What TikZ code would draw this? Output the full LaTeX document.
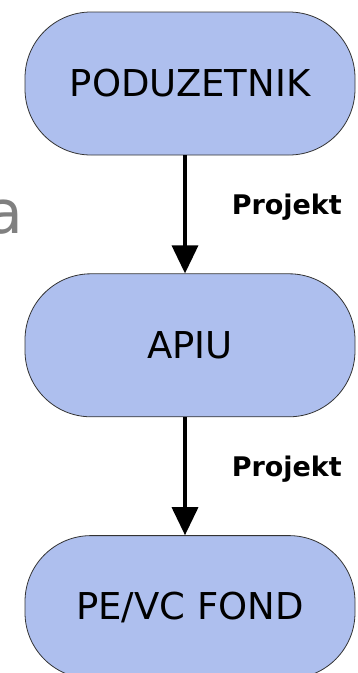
\documentclass[tikz,border=0pt]{standalone}
\usepackage{fontspec}
\setmainfont{DejaVu Sans}
\usetikzlibrary{positioning,arrows.meta}
\definecolor{boxblue}{RGB}{174,191,238}
\definecolor{sidegrey}{RGB}{128,128,128}
\tikzset{
  stage/.style={draw=black!80, fill=boxblue, line width=0.8pt,
    rounded corners=66pt, minimum width=330pt, minimum height=143pt,
    font=\fontsize{37}{44}\selectfont},
  flow/.style={line width=3.5pt, -{Triangle[width=26pt,length=28pt]}},
  flowlabel/.style={anchor=base west, inner sep=0pt, xshift=45pt,
    font=\bfseries\fontsize{27}{32}\selectfont}
}
\begin{document}
\begin{tikzpicture}
   \useasboundingbox (0pt,0pt) rectangle (357pt,-673pt);

   \node[stage] (poduzetnik) at (190pt,-83.5pt) {PODUZETNIK};
   \node[stage, below=118pt of poduzetnik] (apiu) {APIU};
   \node[stage, below=118pt of apiu] (fond) {PE/VC FOND};

   % strelice s oznakama
   \draw[flow] (poduzetnik.south -| 185pt,0) -- node[flowlabel] {Projekt} (apiu.north -| 185pt,0);
   \draw[flow] (apiu.south -| 185pt,0) -- node[flowlabel] {Projekt} (fond.north -| 185pt,0);

   % odrezani tekst lijevo
   \node[anchor=base east, inner sep=0pt, text=sidegrey,
     font=\fontsize{60}{70}\selectfont] (ostatak) at (23pt,-233pt) {a};
\end{tikzpicture}
\end{document}
